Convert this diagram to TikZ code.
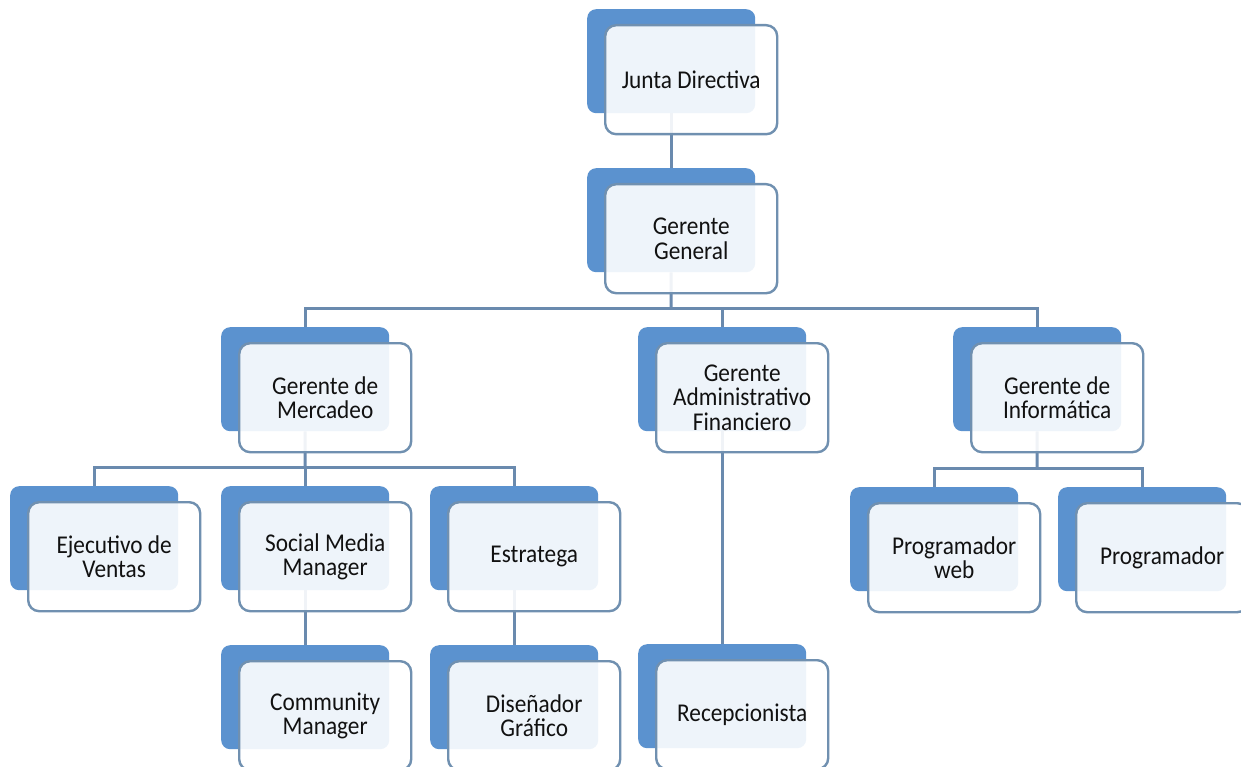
\documentclass[tikz,border=0pt]{standalone}
\usepackage{fontspec}
\setmainfont{Carlito}[FakeStretch=0.91]
\definecolor{backblue}{HTML}{5B92CF}
\definecolor{borderc}{HTML}{7090B0}
\definecolor{connc}{HTML}{6A8AAE}
\definecolor{textc}{HTML}{111111}
\newcommand\backnode[3]{\node[backbox] (#1B) at (#2,#3) {};}
\newcommand\frontnode[2]{\node[frontbox] (#1) at ([shift={(17,15)}]#1B.north west) {#2};}
\begin{document}
\begin{tikzpicture}[x=1pt,y=-1pt,
  backbox/.style={fill=backblue, draw=none, rounded corners=9pt, minimum width=168pt, minimum height=104pt, inner sep=0pt, anchor=north west},
  frontbox/.style={fill=white, fill opacity=0.9, text opacity=1, draw=borderc, line width=2.4pt, rounded corners=11pt, minimum width=172pt, minimum height=109pt, inner sep=0pt, anchor=north west, align=center, text=textc, font=\fontsize{25.6}{24.5}\selectfont},
  conn/.style={draw=connc, line width=3pt}]
\useasboundingbox (0,0) rectangle (1241,767);
\fill[white] (0,0) rectangle (1241,767);
% back boxes
\backnode{jd}{587}{9}
\backnode{gg}{587}{168}
\backnode{gm}{221}{327}
\backnode{ga}{638}{327}
\backnode{gi}{953}{327}
\backnode{ev}{10}{486}
\backnode{sm}{221}{486}
\backnode{es}{430}{486}
\backnode{pw}{850}{487}
\backnode{pr}{1058}{487}
\backnode{cm}{221}{645}
\backnode{dg}{430}{645}
\backnode{re}{638}{644}
% connectors
\coordinate (bus1) at (671,308);
\coordinate (bus2) at (305,467);
\coordinate (bus3) at (1037,468);
\draw[conn] (jdB.south) -- (ggB.north);
\draw[conn] (ggB.south) -- (bus1);
\draw[conn] (bus1) -| (gmB.north);
\draw[conn] (bus1) -| (gaB.north);
\draw[conn] (bus1) -| (giB.north);
\draw[conn] (gmB.south) -- (bus2);
\draw[conn] (bus2) -| (evB.north);
\draw[conn] (bus2) -| (smB.north);
\draw[conn] (bus2) -| (esB.north);
\draw[conn] (smB.south) -- (cmB.north);
\draw[conn] (esB.south) -- (dgB.north);
\draw[conn] (gaB.south) -- (reB.north);
\draw[conn] (giB.south) -- (bus3);
\draw[conn] (bus3) -| (pwB.north);
\draw[conn] (bus3) -| (prB.north);
% front boxes
\frontnode{jd}{Junta Directiva}
\frontnode{gg}{Gerente\\General}
\frontnode{gm}{Gerente de\\Mercadeo}
\frontnode{ga}{Gerente\\Administrativo\\Financiero}
\frontnode{gi}{Gerente de\\Informática}
\frontnode{ev}{Ejecutivo de\\Ventas}
\frontnode{sm}{Social Media\\Manager}
\frontnode{es}{Estratega}
\frontnode{pw}{Programador\\web}
\frontnode{pr}{Programador}
\frontnode{cm}{Community\\Manager}
\frontnode{dg}{Diseñador\\Gráfico}
\frontnode{re}{Recepcionista}
\end{tikzpicture}
\end{document}
